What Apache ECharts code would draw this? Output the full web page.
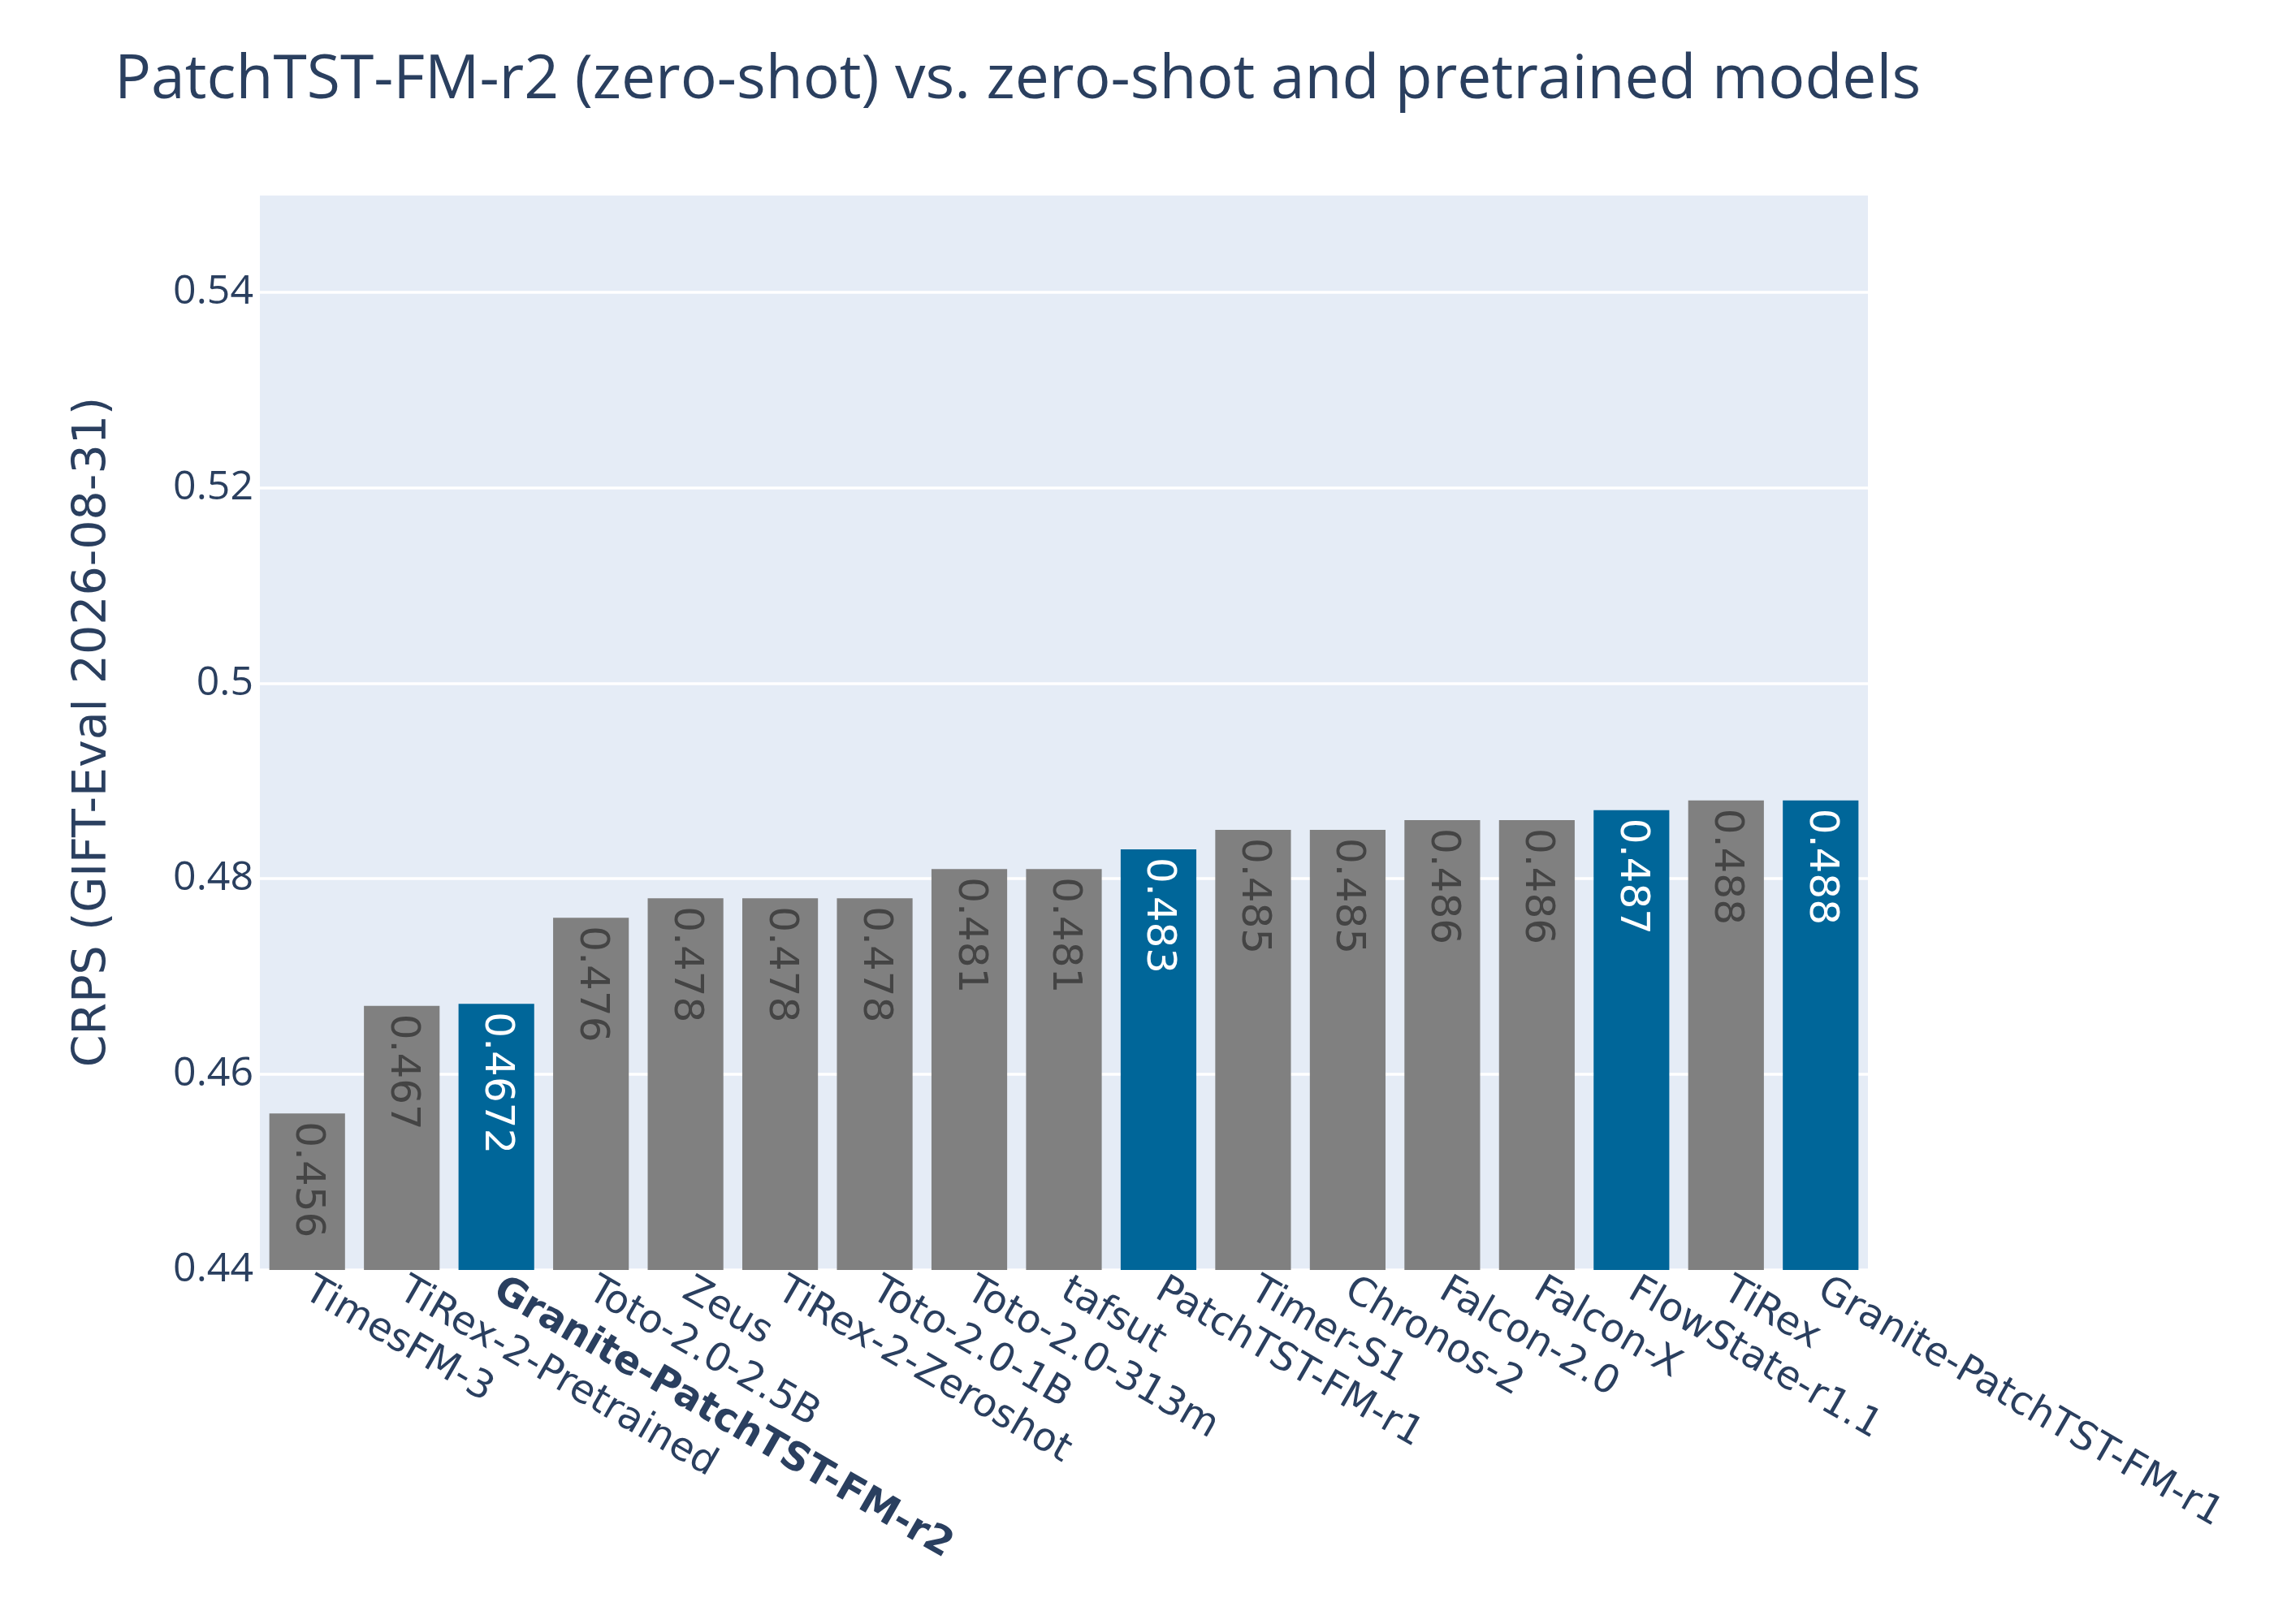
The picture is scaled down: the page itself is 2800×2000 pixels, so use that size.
<!DOCTYPE html>
<html>
<head>
<meta charset="utf-8">
<title>PatchTST-FM-r2 vs. zero-shot and pretrained models</title>
<script src="https://cdn.jsdelivr.net/npm/echarts@6/dist/echarts.min.js"></script>
<style>
	html, body {
		margin: 0;
		padding: 0;
		background: #fff;
	}
	#bar {
		width: 2800px;
		height: 2000px;
	}
</style>
</head>
<body>
<div id="bar"></div>

<script type="text/javascript">
	// 模型名称（按分数排序）
	var models = ['TimesFM-3', 'TiRex-2-Pretrained', 'Granite-PatchTST-FM-r2', 'Toto-2.0-2.5B', 'Zeus',
		'TiRex-2-Zeroshot', 'Toto-2.0-1B', 'Toto-2.0-313m', 'tafsut', 'PatchTST-FM-r1', 'Timer-S1',
		'Chronos-2', 'Falcon-2.0', 'Falcon-X', 'FlowState-r1.1', 'TiRex', 'Granite-PatchTST-FM-r1'];

	// CRPS 分数
	var crps = [0.456, 0.467, 0.4672, 0.476, 0.478, 0.478, 0.478, 0.481, 0.481, 0.483, 0.485,
		0.485, 0.486, 0.486, 0.487, 0.488, 0.488];

	// 高亮（蓝色）的模型
	var highlighted = ['Granite-PatchTST-FM-r2', 'PatchTST-FM-r1', 'FlowState-r1.1', 'Granite-PatchTST-FM-r1'];

	// 加粗显示的模型
	var boldModel = 'Granite-PatchTST-FM-r2';

	// y 轴刻度
	var yMin = 0.44;
	var yMax = 0.55;
	var yStep = 0.02;

	var GRAY = '#808080';
	var BLUE = '#006699';
	var INK = '#2a3f5f';

	// 每根柱子的颜色和标签颜色
	var barData = crps.map(function (v, i) {
		var hi = highlighted.indexOf(models[i]) >= 0;
		return {
			value: v,
			itemStyle: { color: hi ? BLUE : GRAY },
			label: { color: hi ? '#ffffff' : '#444444' }
		};
	});

	var option = {
		animation: false,
		backgroundColor: '#ffffff',
		title: {
			text: 'PatchTST-FM-r2 (zero-shot) vs. zero-shot and pretrained models',
			left: 136,
			top: 57,
			textStyle: {
				fontFamily: '"Open Sans", sans-serif',
				fontSize: 75,
				fontWeight: 'normal',
				color: INK
			}
		},
		grid: {
			left: 320,
			right: 500,
			top: 239,
			bottom: 436,
			show: true,
			backgroundColor: '#E5ECF6',
			borderWidth: 0
		},
		xAxis: {
			type: 'category',
			data: models,
			axisLine: { show: false },
			axisTick: { show: false },
			axisLabel: {
				interval: 0,
				rotate: -30,
				margin: 22,
				fontFamily: '"DejaVu Sans", sans-serif',
				fontSize: 48,
				color: INK,
				formatter: function (name) {
					return name === boldModel ? '{b|' + name + '}' : name;
				},
				rich: {
					b: {
						fontFamily: '"DejaVu Sans", sans-serif',
						fontSize: 48,
						fontWeight: 'bold',
						color: INK
					}
				}
			}
		},
		yAxis: {
			type: 'value',
			min: yMin,
			max: yMax,
			interval: yStep,
			name: 'CRPS (GIFT-Eval 2026-08-31)',
			nameLocation: 'middle',
			nameRotate: 90,
			nameGap: 176,
			nameTextStyle: {
				fontFamily: '"DejaVu Sans", sans-serif',
				fontSize: 57,
				color: INK
			},
			axisLine: { show: false },
			axisTick: { show: false },
			axisLabel: {
				showMaxLabel: false,
				margin: 8,
				fontFamily: '"Open Sans", sans-serif',
				fontSize: 50,
				color: INK
			},
			splitLine: {
				lineStyle: { color: '#ffffff', width: 3.5 }
			}
		},
		series: [{
			type: 'bar',
			data: barData,
			barCategoryGap: '20%',
			label: {
				show: true,
				position: 'insideTop',
				distance: 10,
				rotate: -90,
				align: 'left',
				verticalAlign: 'middle',
				fontFamily: '"DejaVu Sans", sans-serif',
				fontSize: 50,
				formatter: function (p) {
					return String(p.value);
				}
			}
		}]
	};

	renderChart('bar', option);

	// 渲染图表
	function renderChart(containerId, opt) {
		var dom = document.getElementById(containerId);
		var chart = echarts.init(dom);
		chart.setOption(opt);
	}
</script>
</body>
</html>
